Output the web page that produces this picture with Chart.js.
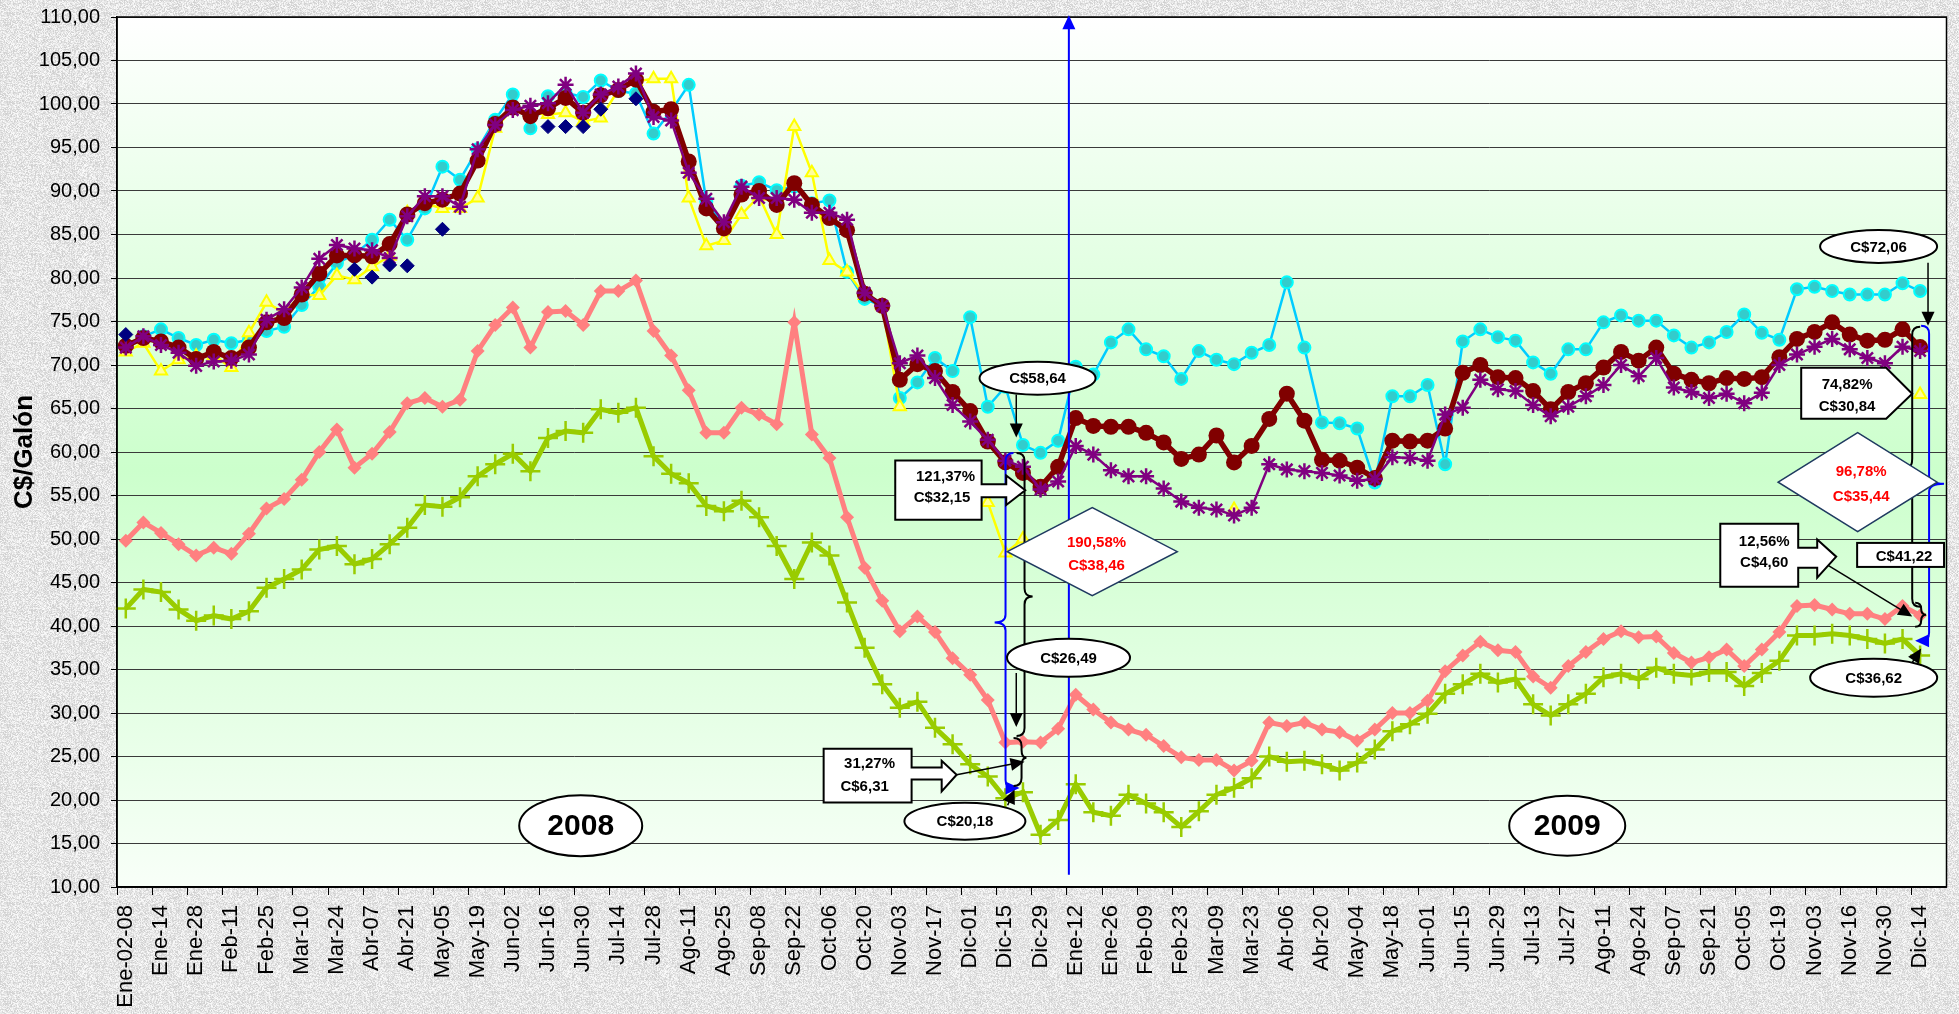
<!DOCTYPE html>
<html>
<head>
<meta charset="utf-8">
<title>Precios C$/Galón 2008-2009</title>
<script src="https://cdn.jsdelivr.net/npm/chart.js@4.4.1/dist/chart.umd.min.js"></script>
<style>
  html, body { margin: 0; padding: 0; background: #e2e2e2; }
  canvas { display: block; }
</style>
</head>
<body>
<canvas id="grafico" width="1959" height="1014"></canvas>
<script>
// Semanas (etiquetas del eje X; se muestra una de cada dos)
const semanas = [
  'Ene-02-08', 'Ene-07', 'Ene-14', 'Ene-21', 'Ene-28', 'Feb-04', 'Feb-11', 'Feb-18', 'Feb-25', 'Mar-03',
  'Mar-10', 'Mar-17', 'Mar-24', 'Mar-31', 'Abr-07', 'Abr-14', 'Abr-21', 'Abr-28', 'May-05', 'May-12',
  'May-19', 'May-26', 'Jun-02', 'Jun-09', 'Jun-16', 'Jun-23', 'Jun-30', 'Jul-07', 'Jul-14', 'Jul-21',
  'Jul-28', 'Ago-04', 'Ago-11', 'Ago-18', 'Ago-25', 'Sep-01', 'Sep-08', 'Sep-15', 'Sep-22', 'Sep-29',
  'Oct-06', 'Oct-13', 'Oct-20', 'Oct-27', 'Nov-03', 'Nov-10', 'Nov-17', 'Nov-24', 'Dic-01', 'Dic-08',
  'Dic-15', 'Dic-22', 'Dic-29', 'Ene-05', 'Ene-12', 'Ene-19', 'Ene-26', 'Feb-02', 'Feb-09', 'Feb-16',
  'Feb-23', 'Mar-02', 'Mar-09', 'Mar-16', 'Mar-23', 'Mar-30', 'Abr-06', 'Abr-13', 'Abr-20', 'Abr-27',
  'May-04', 'May-11', 'May-18', 'May-25', 'Jun-01', 'Jun-08', 'Jun-15', 'Jun-22', 'Jun-29', 'Jul-06',
  'Jul-13', 'Jul-20', 'Jul-27', 'Ago-03', 'Ago-11', 'Ago-17', 'Ago-24', 'Ago-31', 'Sep-07', 'Sep-14',
  'Sep-21', 'Sep-28', 'Oct-05', 'Oct-12', 'Oct-19', 'Oct-26', 'Nov-03', 'Nov-09', 'Nov-16', 'Nov-23',
  'Nov-30', 'Dic-07', 'Dic-14', 'Dic-21'
];

// Series (C$/Galón)
const serieGranate = [
  72.2, 73.1, 72.7, 72.0, 70.7, 71.5, 70.8, 72.0, 74.9, 75.4,
  78.1, 80.5, 82.6, 82.6, 82.5, 83.9, 87.3, 88.6, 89.0, 89.7,
  93.5, 97.7, 99.6, 98.6, 99.5, 100.7, 99.0, 101.0, 101.6, 102.8,
  99.1, 99.4, 93.4, 88.0, 85.7, 89.6, 90.0, 88.4, 90.9, 88.4,
  86.9, 85.5, 78.2, 76.8, 68.3, 70.1, 69.3, 66.9, 64.7, 61.2,
  58.8, 57.6, 56.0, 58.3, 63.9, 63.0, 62.9, 62.9, 62.2, 61.1,
  59.2, 59.7, 61.9, 58.8, 60.7, 63.8, 66.7, 63.6, 59.1, 59.0,
  58.2, 57.0, 61.3, 61.2, 61.3, 62.7, 69.1, 70.0, 68.6, 68.5,
  67.0, 64.9, 66.9, 67.9, 69.7, 71.5, 70.5, 72.0, 69.0, 68.3,
  67.9, 68.5, 68.4, 68.6, 70.9, 73.0, 73.8, 74.9, 73.5, 72.8,
  72.9, 74.1, 72.06, null
];
const serieMorada = [
  72.0, 73.3, 72.3, 71.4, 69.9, 70.4, 70.5, 71.2, 75.2, 76.4,
  78.9, 82.2, 83.8, 83.4, 83.2, 82.3, 87.1, 89.4, 89.4, 88.2,
  94.8, 97.6, 99.3, 99.8, 100.1, 102.2, 99.0, 101.1, 102.0, 103.5,
  98.5, 98.1, 92.1, 89.1, 86.4, 90.5, 89.2, 89.2, 89.0, 87.5,
  87.5, 86.7, 78.3, 76.8, 70.2, 71.1, 68.5, 65.4, 63.5, 61.4,
  59.0, 58.3, 55.7, 56.6, 60.7, 59.7, 57.9, 57.2, 57.2, 55.8,
  54.3, 53.6, 53.4, 52.7, 53.6, 58.6, 58.0, 57.8, 57.6, 57.3,
  56.7, 56.9, 59.4, 59.3, 59.0, 64.3, 65.1, 68.3, 67.2, 67.0,
  65.4, 64.1, 65.2, 66.4, 67.7, 70.0, 68.7, 70.8, 67.4, 66.9,
  66.2, 66.7, 65.6, 66.8, 70.0, 71.2, 72.1, 73.0, 71.8, 70.8,
  70.2, 72.1, 71.6, null
];
const serieCeleste = [
  72.3, 73.3, 74.1, 73.1, 72.3, 72.9, 72.5, 72.9, 73.9, 74.4,
  76.9, 79.0, 81.7, 82.7, 84.4, 86.7, 84.4, 88.0, 92.8, 91.3,
  94.8, 98.2, 101.1, 97.2, 100.9, 101.3, 100.8, 102.7, 101.5, 101.2,
  96.6, 99.2, 102.2, 88.8, 86.0, 90.6, 91.0, 90.1, 90.5, 88.6,
  88.9, 80.7, 77.6, 76.8, 66.2, 68.0, 70.8, 69.3, 75.5, 65.2,
  67.5, 60.8, 59.9, 61.3, 69.8, 68.9, 72.6, 74.1, 71.8, 71.0,
  68.4, 71.6, 70.6, 70.1, 71.4, 72.3, 79.5, 72.0, 63.4, 63.3,
  62.7, 56.5, 66.4, 66.4, 67.7, 58.6, 72.7, 74.1, 73.2, 72.8,
  70.3, 69.0, 71.8, 71.8, 74.9, 75.7, 75.1, 75.1, 73.4, 72.0,
  72.6, 73.8, 75.8, 73.7, 72.9, 78.7, 79.0, 78.5, 78.1, 78.1,
  78.1, 79.4, 78.5, null
];
const serieAmarilla = [
  71.5, 72.5, 69.3, 70.6, 71.0, 71.1, 69.7, 73.7, 77.2, 76.0,
  78.1, 78.0, 80.3, 79.8, 81.3, 82.5, 87.5, 88.6, 88.0, 88.0,
  89.2, 97.2, 99.5, 99.0, 98.8, 99.0, 98.0, 98.4, 101.6, 102.6,
  102.9, 102.9, 89.2, 83.7, 84.3, 87.3, 89.4, 85.0, 97.4, 92.1,
  82.0, 80.7, 78.0, 76.8, 65.2, null, null, null, null, 54.2,
  48.4, 50.0, null, null, null, null, null, null, null, null,
  null, null, null, 53.4, null, null, null, null, null, null,
  null, null, null, null, null, null, null, null, null, null,
  null, null, null, null, null, null, null, null, null, null,
  null, null, null, null, null, null, null, null, null, null,
  null, null, 66.6, null
];
const serieAzul = [
  73.5, null, null, null, null, null, null, null, null, null,
  null, null, null, 81.0, 80.1, 81.5, 81.4, null, 85.6, null,
  null, null, null, null, 97.4, 97.4, 97.4, 99.4, null, 100.6,
  null, null, null, null, null, null, null, null, null, null,
  null, null, null, null, null, null, null, null, null, null,
  null, null, null, null, null, null, null, null, null, null,
  null, null, null, null, null, null, null, null, null, null,
  null, null, null, null, null, null, null, null, null, null,
  null, null, null, null, null, null, null, null, null, null,
  null, null, null, null, null, null, null, null, null, null,
  null, null, null, null
];
const serieSalmon = [
  49.8, 51.9, 50.7, 49.4, 48.1, 49.0, 48.3, 50.6, 53.5, 54.6,
  56.8, 60.0, 62.6, 58.2, 59.8, 62.3, 65.6, 66.2, 65.2, 66.0,
  71.6, 74.6, 76.6, 72.0, 76.1, 76.2, 74.6, 78.5, 78.5, 79.7,
  73.9, 71.1, 67.1, 62.2, 62.2, 65.1, 64.3, 63.2, 74.9, 62.0,
  59.3, 52.5, 46.7, 42.9, 39.4, 41.1, 39.3, 36.3, 34.4, 31.5,
  26.6, 26.7, 26.6, 28.2, 32.1, 30.4, 28.9, 28.1, 27.5, 26.2,
  24.9, 24.6, 24.6, 23.4, 24.5, 28.9, 28.5, 28.9, 28.1, 27.8,
  26.8, 28.1, 30.0, 30.0, 31.4, 34.8, 36.6, 38.2, 37.2, 37.0,
  34.2, 32.9, 35.4, 37.0, 38.5, 39.4, 38.7, 38.8, 36.9, 35.8,
  36.4, 37.3, 35.4, 37.3, 39.3, 42.3, 42.4, 41.9, 41.4, 41.4,
  40.8, 42.3, 41.22, null
];
const serieVerde = [
  42.0, 44.2, 43.9, 41.9, 40.6, 41.2, 40.8, 41.7, 44.4, 45.4,
  46.5, 48.8, 49.2, 47.1, 47.7, 49.4, 51.3, 53.9, 53.7, 54.8,
  57.2, 58.6, 59.8, 57.8, 61.6, 62.4, 62.2, 64.9, 64.5, 65.1,
  59.5, 57.5, 56.4, 53.8, 53.2, 54.4, 52.5, 49.2, 45.4, 49.6,
  48.1, 42.7, 37.5, 33.3, 30.6, 31.3, 28.3, 26.4, 24.1, 22.7,
  20.2, 20.9, 16.0, 17.7, 21.8, 18.6, 18.2, 20.6, 19.6, 18.6,
  16.9, 18.7, 20.6, 21.4, 22.5, 25.0, 24.4, 24.5, 24.1, 23.4,
  24.3, 25.8, 27.9, 28.7, 29.9, 32.2, 33.3, 34.5, 33.5, 33.9,
  31.0, 29.7, 31.0, 32.2, 34.1, 34.5, 33.9, 35.2, 34.5, 34.3,
  34.7, 34.7, 33.1, 34.6, 36.0, 38.9, 38.9, 39.1, 38.9, 38.5,
  38.0, 38.5, 36.62, null
];

const fuente = '"Liberation Sans", Arial, sans-serif';

// Textura gris clara tipo granito para el fondo de la página
function texturaGranito() {
  const c = document.createElement('canvas');
  c.width = 97; c.height = 89;
  const g = c.getContext('2d');
  const img = g.createImageData(97, 89);
  for (let y = 0; y < 89; y++) {
    for (let x = 0; x < 97; x++) {
      const h = Math.sin(x * 12.9898 + y * 78.233) * 43758.5453;
      const f = h - Math.floor(h);
      const v = Math.round(206 + f * 46);
      const k = (y * 97 + x) * 4;
      img.data[k] = v; img.data[k + 1] = v; img.data[k + 2] = v; img.data[k + 3] = 255;
    }
  }
  g.putImageData(img, 0, 0);
  return c;
}
const granito = texturaGranito();

// Fondo de la página y degradado verde del área de trazado
const fondo = {
  id: 'fondo',
  beforeDraw(chart) {
    const { ctx, chartArea: a, width, height } = chart;
    ctx.save();
    ctx.fillStyle = ctx.createPattern(granito, 'repeat');
    ctx.fillRect(0, 0, width, height);
    const g = ctx.createLinearGradient(0, a.top, 0, a.bottom);
    g.addColorStop(0, '#ffffff');
    g.addColorStop(0.52, '#ccffcc');
    g.addColorStop(1, '#f8fff8');
    ctx.fillStyle = g;
    ctx.fillRect(a.left, a.top, a.right - a.left, a.bottom - a.top);
    ctx.restore();
  },
  afterDatasetsDraw(chart) {
    const { ctx, chartArea: a } = chart;
    ctx.save();
    ctx.strokeStyle = '#000';
    ctx.lineWidth = 1.5;
    ctx.strokeRect(a.left, a.top, a.right - a.left, a.bottom - a.top);
    ctx.restore();
  }
};

// Funciones de dibujo para las llamadas
function punta(ctx, x, y, ang, color) {
  const L = 14, W = 6.5;
  ctx.fillStyle = color;
  ctx.beginPath();
  ctx.moveTo(x, y);
  ctx.lineTo(x - L * Math.cos(ang) + W * Math.sin(ang), y - L * Math.sin(ang) - W * Math.cos(ang));
  ctx.lineTo(x - L * Math.cos(ang) - W * Math.sin(ang), y - L * Math.sin(ang) + W * Math.cos(ang));
  ctx.closePath();
  ctx.fill();
}

function flecha(ctx, x1, y1, x2, y2, color, ancho) {
  const ang = Math.atan2(y2 - y1, x2 - x1);
  ctx.strokeStyle = color;
  ctx.lineWidth = ancho || 1.5;
  ctx.beginPath();
  ctx.moveTo(x1, y1);
  ctx.lineTo(x2 - 10 * Math.cos(ang), y2 - 10 * Math.sin(ang));
  ctx.stroke();
  punta(ctx, x2, y2, ang, color);
}

function elipse(ctx, cx, cy, w, h, texto, tam) {
  ctx.beginPath();
  ctx.ellipse(cx, cy, w / 2, h / 2, 0, 0, Math.PI * 2);
  ctx.fillStyle = '#fff';
  ctx.fill();
  ctx.lineWidth = 2;
  ctx.strokeStyle = '#000';
  ctx.stroke();
  ctx.fillStyle = '#000';
  ctx.font = 'bold ' + tam + 'px ' + fuente;
  ctx.textAlign = 'center';
  ctx.textBaseline = 'middle';
  ctx.fillText(texto, cx, cy + 1);
}

function textos(ctx, lineas, color) {
  ctx.fillStyle = color;
  ctx.font = 'bold 15px ' + fuente;
  ctx.textAlign = 'center';
  ctx.textBaseline = 'middle';
  lineas.forEach(l => ctx.fillText(l[0], l[1], l[2]));
}

function cuadroFlecha(ctx, p) {
  ctx.beginPath();
  ctx.moveTo(p.l, p.t);
  ctx.lineTo(p.r, p.t);
  ctx.lineTo(p.r, p.st);
  ctx.lineTo(p.hx, p.st);
  ctx.lineTo(p.hx, p.ht);
  ctx.lineTo(p.tx, p.ty);
  ctx.lineTo(p.hx, p.hb);
  ctx.lineTo(p.hx, p.sb);
  ctx.lineTo(p.r, p.sb);
  ctx.lineTo(p.r, p.b);
  ctx.lineTo(p.l, p.b);
  ctx.closePath();
  ctx.fillStyle = '#fff';
  ctx.fill();
  ctx.lineWidth = 2;
  ctx.strokeStyle = '#000';
  ctx.stroke();
}

function rombo(ctx, cx, cy, w, h) {
  ctx.beginPath();
  ctx.moveTo(cx - w / 2, cy);
  ctx.lineTo(cx, cy - h / 2);
  ctx.lineTo(cx + w / 2, cy);
  ctx.lineTo(cx, cy + h / 2);
  ctx.closePath();
  ctx.fillStyle = '#fff';
  ctx.fill();
  ctx.lineWidth = 1.5;
  ctx.strokeStyle = '#1f3a60';
  ctx.stroke();
}

function llave(ctx, x, y1, y2, tx, ty, color, conPunta) {
  const d = Math.sign(tx - x);
  const r = Math.min(8, (ty - y1) / 2, (y2 - ty) / 2);
  ctx.strokeStyle = color;
  ctx.lineWidth = 2;
  ctx.beginPath();
  ctx.moveTo(x - d * r, y1);
  ctx.quadraticCurveTo(x, y1, x, y1 + r);
  ctx.lineTo(x, ty - r);
  ctx.quadraticCurveTo(x, ty, tx, ty);
  ctx.quadraticCurveTo(x, ty, x, ty + r);
  ctx.lineTo(x, y2 - r);
  ctx.quadraticCurveTo(x, y2, x - d * r, y2);
  ctx.stroke();
  if (conPunta) punta(ctx, x - d * (r + 6), y2, d > 0 ? Math.PI : 0, color);
}

const anotaciones = {
  id: 'anotaciones',
  afterDraw(chart) {
    const ctx = chart.ctx;
    const X = i => chart.scales.x.getPixelForValue(i);
    const Y = v => chart.scales.y.getPixelForValue(v);
    ctx.save();

    // Flecha azul vertical: cambio de año
    ctx.strokeStyle = '#0000ff';
    ctx.lineWidth = 2;
    ctx.beginPath();
    ctx.moveTo(X(53.61), Y(11.4));
    ctx.lineTo(X(53.61), Y(108.8));
    ctx.stroke();
    punta(ctx, X(53.61), Y(110.2), -Math.PI / 2, '#0000ff');

    // Llaves
    llave(ctx, X(50.01), Y(59.89), Y(21.38), X(49.39), Y(40.4), '#0000ff', true);
    llave(ctx, X(51.09), Y(59.89), Y(27.36), X(51.55), Y(43.4), '#000', false);
    llave(ctx, X(50.92), Y(27.13), Y(21.6), X(51.2), Y(24.86), '#000', false);
    llave(ctx, X(102.51), Y(74.52), Y(38.31), X(103.36), Y(56.36), '#0000ff', true);
    llave(ctx, X(101.55), Y(74.4), Y(42.22), X(101.32), Y(58.31), '#000', false);
    llave(ctx, X(102.06), Y(42.68), Y(39.92), X(102.34), Y(41.3), '#000', false);

    // Flechas negras
    flecha(ctx, X(50.62), Y(66.6), X(50.62), Y(61.66), '#000');
    flecha(ctx, X(50.62), Y(34.6), X(50.62), Y(28.4), '#000');
    flecha(ctx, X(47.23), Y(22.9), X(51.09), Y(24.4), '#000');
    flecha(ctx, X(50.13), Y(19.4), X(50.52), Y(21.2), '#000');
    flecha(ctx, X(102.45), Y(81.76), X(102.45), Y(74.52), '#000');
    flecha(ctx, X(96.7), Y(47.06), X(101.55), Y(41.08), '#000');
    flecha(ctx, X(101.55), Y(35.8), X(102.06), Y(37.4), '#000');

    // Cuadros con flecha
    cuadroFlecha(ctx, { l: X(43.74), r: X(48.65), t: Y(59.03), b: Y(52.22), st: Y(56.3), sb: Y(54.8),
      hx: X(50.05), ht: Y(57.3), hb: Y(53.9), tx: X(51.13), ty: Y(55.6) });
    textos(ctx, [['121,37%', X(46.6), Y(57.2)], ['C$32,15', X(46.4), Y(54.76)]], '#000');

    cuadroFlecha(ctx, { l: X(39.67), r: X(44.67), t: Y(25.9), b: Y(19.7), st: Y(23.74), sb: Y(22.36),
      hx: X(46.38), ht: Y(24.5), hb: Y(20.98), tx: X(47.23), ty: Y(22.9) });
    textos(ctx, [['31,27%', X(42.28), Y(24.2)], ['C$6,31', X(42.0), Y(21.55)]], '#000');

    cuadroFlecha(ctx, { l: X(90.64), r: X(95.07), t: Y(51.76), b: Y(44.52), st: Y(49.0), sb: Y(46.7),
      hx: X(96.15), ht: Y(49.93), hb: Y(45.56), tx: X(97.23), ty: Y(47.97) });
    textos(ctx, [['12,56%', X(93.14), Y(49.7)], ['C$4,60', X(93.14), Y(47.3)]], '#000');

    // Pentágono 74,82%
    ctx.beginPath();
    ctx.moveTo(X(95.24), Y(69.69));
    ctx.lineTo(X(100.07), Y(69.69));
    ctx.lineTo(X(101.55), Y(66.7));
    ctx.lineTo(X(100.07), Y(63.83));
    ctx.lineTo(X(95.24), Y(63.83));
    ctx.closePath();
    ctx.fillStyle = '#fff';
    ctx.fill();
    ctx.lineWidth = 2;
    ctx.strokeStyle = '#000';
    ctx.stroke();
    textos(ctx, [['74,82%', X(97.85), Y(67.74)], ['C$30,84', X(97.85), Y(65.21)]], '#000');

    // Cuadro C$41,22
    ctx.fillStyle = '#fff';
    ctx.fillRect(X(98.42), Y(49.55), X(103.36) - X(98.42), Y(46.79) - Y(49.55));
    ctx.strokeRect(X(98.42), Y(49.55), X(103.36) - X(98.42), Y(46.79) - Y(49.55));
    textos(ctx, [['C$41,22', X(101.09), Y(47.95)]], '#000');

    // Rombos con variación
    rombo(ctx, X(54.94), Y(48.54), 170, 88);
    textos(ctx, [['190,58%', X(55.18), Y(49.57)], ['C$38,46', X(55.18), Y(46.93)]], '#ff0000');
    rombo(ctx, X(98.45), Y(56.53), 159, 99);
    textos(ctx, [['96,78%', X(98.65), Y(57.7)], ['C$35,44', X(98.65), Y(54.87)]], '#ff0000');

    // Elipses
    elipse(ctx, X(25.86), Y(17.05), 123, 61, '2008', 30);
    elipse(ctx, X(81.94), Y(17.05), 116, 60, '2009', 30);
    elipse(ctx, X(51.83), Y(68.48), 116, 33, 'C$58,64', 15);
    elipse(ctx, X(53.59), Y(36.35), 123, 38, 'C$26,49', 15);
    elipse(ctx, X(47.70), Y(17.56), 121, 37, 'C$20,18', 15);
    elipse(ctx, X(99.64), Y(83.63), 117, 33, 'C$72,06', 15);
    elipse(ctx, X(99.36), Y(34.06), 127, 38, 'C$36,62', 15);

    ctx.restore();
  }
};

const ctx = document.getElementById('grafico').getContext('2d');
new Chart(ctx, {
  type: 'line',
  data: {
    labels: semanas,
    datasets: [
      {
        label: 'Azul', data: serieAzul, showLine: false,
        pointStyle: 'rectRot', pointRadius: 7, backgroundColor: '#000080', borderColor: '#000080', pointBorderWidth: 1
      },
      {
        label: 'Morada', data: serieMorada, borderColor: '#800080', borderWidth: 2.5,
        pointStyle: 'star', pointRadius: 8, pointBorderWidth: 2.5, pointBorderColor: '#800080', backgroundColor: '#800080'
      },
      {
        label: 'Granate', data: serieGranate, borderColor: '#800000', borderWidth: 5.5,
        pointStyle: 'circle', pointRadius: 8, pointBorderWidth: 0, backgroundColor: '#800000', pointBackgroundColor: '#800000'
      },
      {
        label: 'Amarilla', data: serieAmarilla, borderColor: '#ffff00', borderWidth: 2.5, spanGaps: false,
        pointStyle: 'triangle', pointRadius: 7, pointBorderWidth: 2, pointBorderColor: '#ffff00', pointBackgroundColor: '#ffff99'
      },
      {
        label: 'Celeste', data: serieCeleste, borderColor: '#00ccff', borderWidth: 2.5,
        pointStyle: 'circle', pointRadius: 6, pointBorderWidth: 2, pointBorderColor: '#00ffff', pointBackgroundColor: '#33cccc'
      },
      {
        label: 'Salmón', data: serieSalmon, borderColor: '#ff8080', borderWidth: 5,
        pointStyle: 'rectRot', pointRadius: 7, pointBorderWidth: 0, pointBackgroundColor: '#ff8080'
      },
      {
        label: 'Verde', data: serieVerde, borderColor: '#99cc00', borderWidth: 5,
        pointStyle: 'cross', pointRadius: 10, pointBorderWidth: 2.5, pointBorderColor: '#99cc00'
      }
    ]
  },
  options: {
    responsive: false,
    animation: false,
    devicePixelRatio: 1,
    layout: { padding: { top: 17, right: 11, left: 0, bottom: 0 } },
    elements: { line: { tension: 0 } },
    plugins: { legend: { display: false }, tooltip: { enabled: false } },
    scales: {
      x: {
        type: 'category',
        offset: true,
        grid: {
          offset: true,
          drawOnChartArea: false,
          tickLength: 8,
          tickColor: c => (c.index % 2 === 0 ? '#000' : 'rgba(0,0,0,0)')
        },
        border: { color: '#000', width: 1.5 },
        ticks: {
          autoSkip: false,
          minRotation: 90,
          maxRotation: 90,
          padding: 10,
          color: '#000',
          font: { family: fuente, size: 22 },
          callback: function (val, i) { return i % 2 === 0 ? this.getLabelForValue(val) : ''; }
        },
        afterFit: s => { s.height = 127; s.paddingLeft = 0; s.paddingRight = 0; }
      },
      y: {
        min: 10,
        max: 110,
        grid: { color: '#3a3a3a', lineWidth: 1, tickLength: 6, tickColor: '#000' },
        border: { color: '#000', width: 1.5 },
        ticks: {
          stepSize: 5,
          padding: 11,
          color: '#000',
          font: { family: fuente, size: 20 },
          callback: v => v.toFixed(2).replace('.', ',')
        },
        title: {
          display: true,
          text: 'C$/Galón',
          color: '#000',
          font: { family: fuente, size: 26, weight: 'bold' },
          padding: { top: 9, bottom: 0 }
        },
        afterFit: s => { s.width = 117; s.paddingTop = 0; s.paddingBottom = 0; }
      }
    }
  },
  plugins: [fondo, anotaciones]
});
</script>
</body>
</html>
